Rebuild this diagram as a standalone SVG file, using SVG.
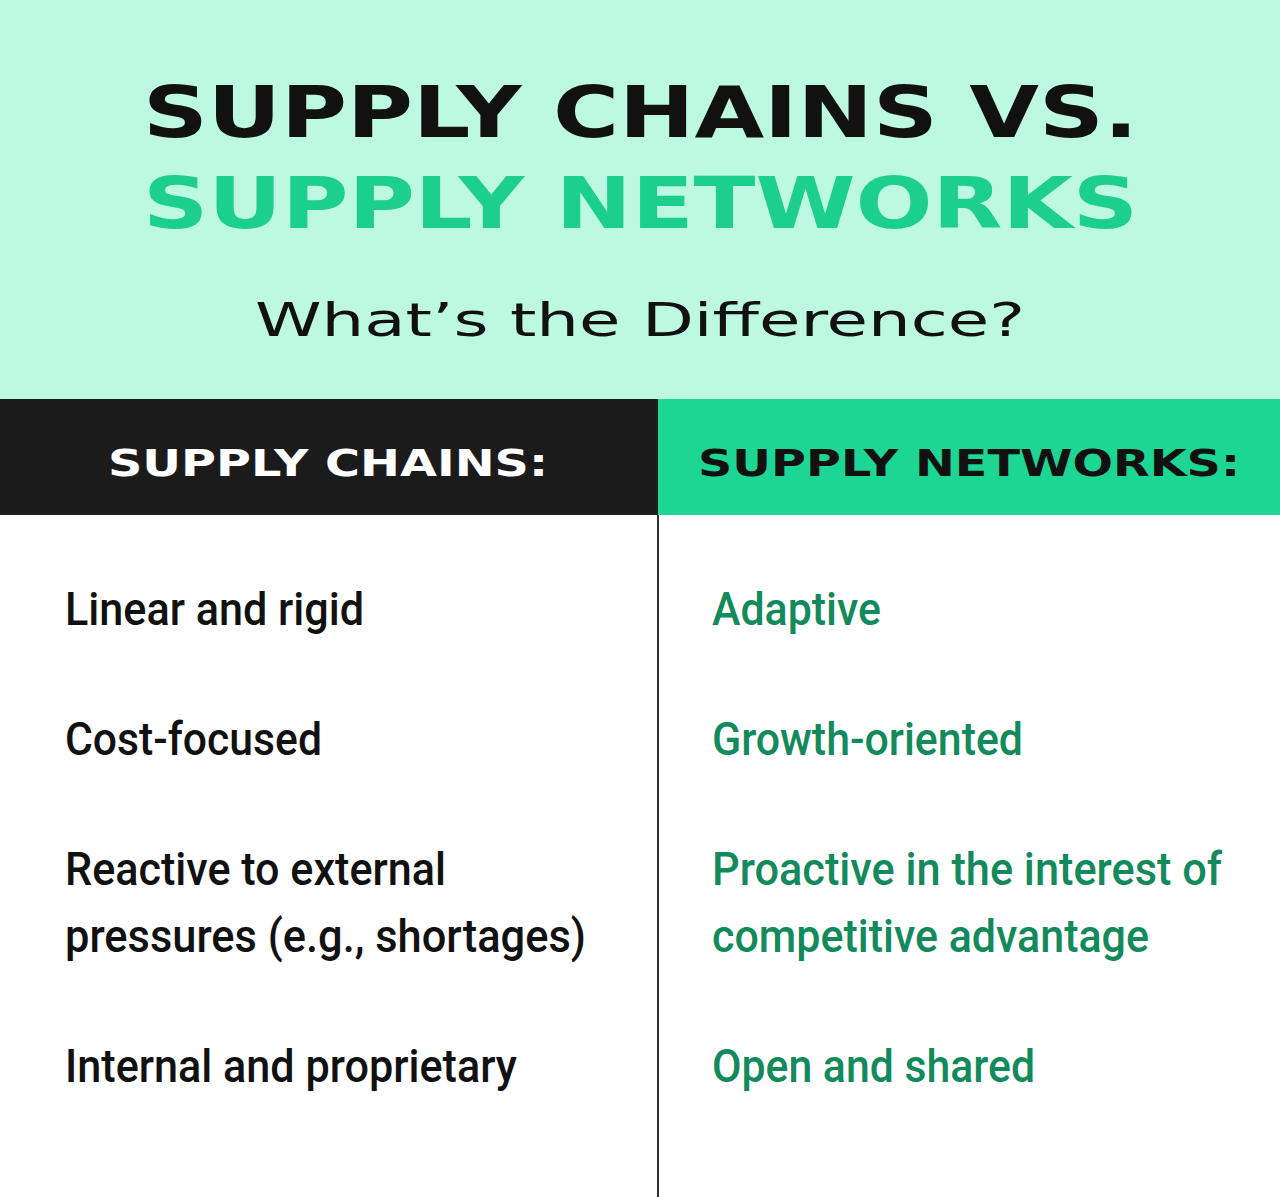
<svg xmlns="http://www.w3.org/2000/svg" width="1280" height="1197" viewBox="0 0 1280 1197">
<style>
.t{font-family:"DejaVu Sans","Liberation Sans",sans-serif;font-weight:bold}
.h{font-family:"DejaVu Sans","Liberation Sans",sans-serif;font-weight:bold;font-size:38px}
.b{font-family:Roboto,"Liberation Sans",sans-serif;font-size:46px;font-weight:500}
.l{fill:#111}
.r{fill:#138a5b}
</style>
<rect x="0" y="0" width="1280" height="399" fill="#bdf9e2"/>
<rect x="0" y="399" width="1280" height="798" fill="#ffffff"/>
<g id="title">
<text class="t" x="143" y="137" font-size="72" fill="#111" textLength="995" lengthAdjust="spacingAndGlyphs">SUPPLY CHAINS  VS.</text>
<text class="t" x="143" y="228" font-size="72" fill="#1ccf8d" textLength="995" lengthAdjust="spacingAndGlyphs">SUPPLY NETWORKS</text>
<text x="255" y="336" font-family="DejaVu Sans,sans-serif" font-size="46" fill="#111" textLength="770" lengthAdjust="spacingAndGlyphs">What’s the Difference?</text>
</g>
<g id="header-chains">
<rect x="0" y="399" width="658" height="116" fill="#1b1b1b"/>
<text class="h" x="108" y="476" fill="#fff" textLength="440" lengthAdjust="spacingAndGlyphs">SUPPLY CHAINS:</text>
</g>
<g id="header-networks">
<rect x="658" y="399" width="622" height="116" fill="#1ed694"/>
<text class="h" x="698" y="476" fill="#111" textLength="542" lengthAdjust="spacingAndGlyphs">SUPPLY NETWORKS:</text>
</g>
<g id="connectors">
<line x1="658" y1="515" x2="658" y2="1197" stroke="#333" stroke-width="2"/>
</g>
<g id="left">
<text class="b l" x="65" y="625" textLength="299" lengthAdjust="spacingAndGlyphs">Linear and rigid</text>
<text class="b l" x="65" y="755" textLength="257" lengthAdjust="spacingAndGlyphs">Cost-focused</text>
<text class="b l" x="65" y="885" textLength="381" lengthAdjust="spacingAndGlyphs">Reactive to external</text>
<text class="b l" x="65" y="952" textLength="521" lengthAdjust="spacingAndGlyphs">pressures (e.g., shortages)</text>
<text class="b l" x="65" y="1082" textLength="452" lengthAdjust="spacingAndGlyphs">Internal and proprietary</text>
</g>
<g id="right">
<text class="b r" x="712" y="625" textLength="169" lengthAdjust="spacingAndGlyphs">Adaptive</text>
<text class="b r" x="712" y="755" textLength="311" lengthAdjust="spacingAndGlyphs">Growth-oriented</text>
<text class="b r" x="712" y="885" textLength="510" lengthAdjust="spacingAndGlyphs">Proactive in the interest of</text>
<text class="b r" x="712" y="952" textLength="437" lengthAdjust="spacingAndGlyphs">competitive advantage</text>
<text class="b r" x="712" y="1082" textLength="323" lengthAdjust="spacingAndGlyphs">Open and shared</text>
</g>
</svg>
